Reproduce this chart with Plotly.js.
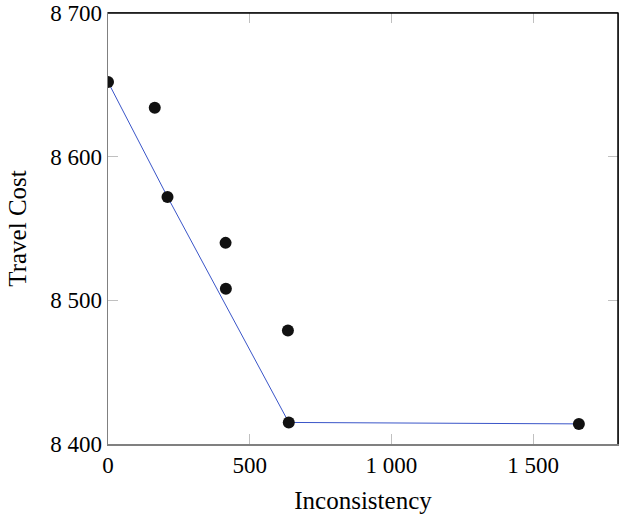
<!DOCTYPE html>
<html>
<head>
<meta charset="utf-8">
<script src="https://cdn.plot.ly/plotly-3.0.1.min.js"></script>
<style>html,body{margin:0;padding:0;background:#fff;}#chart{width:619px;height:516px;}</style>
</head>
<body>
<div id="chart"></div>
<script>
// Scatter points (all solutions)
const pointsX = [0, 165, 210, 415, 416, 635, 638, 1662];
const pointsY = [8652, 8634, 8572, 8540, 8508, 8479, 8415, 8414];
// Pareto front line
const frontX = [0, 210, 638, 1662];
const frontY = [8652, 8572, 8415, 8414];
// Tick labels
const xTickVals = [0, 500, 1000, 1500];
const xTickText = ['0', '500', '1 000', '1 500'];
const yTickVals = [8400, 8500, 8600, 8700];
const yTickText = ['8 400', '8 500', '8 600', '8 700'];

const family = '"Liberation Serif", "DejaVu Serif", serif';
const tickFont = {family: family, size: 23, color: '#000'};
const titleFont = {family: family, size: 25, color: '#000'};

const traces = [
  {x: frontX, y: frontY, mode: 'lines', line: {color: '#3a55c8', width: 1}, hoverinfo: 'skip', showlegend: false},
  {x: pointsX, y: pointsY, mode: 'markers', marker: {color: '#111111', size: 12}, showlegend: false}
];

const layout = {
  width: 619, height: 516,
  margin: {l: 108, r: 1, t: 13, b: 72},
  paper_bgcolor: '#fff', plot_bgcolor: '#fff',
  font: tickFont,
  showlegend: false,
  xaxis: {
    range: [0, 1800], tickvals: xTickVals, ticktext: xTickText,
    ticks: 'inside', ticklen: 10, tickcolor: '#c0c0c0', tickwidth: 1,
    showline: true, linecolor: '#808080', linewidth: 1.5, mirror: 'ticks',
    showgrid: false, zeroline: false,
    tickfont: tickFont,
    title: {text: 'Inconsistency', font: titleFont, standoff: 14}
  },
  yaxis: {
    range: [8400, 8700], tickvals: yTickVals, ticktext: yTickText,
    ticks: 'inside', ticklen: 10, tickcolor: '#c0c0c0', tickwidth: 1,
    showline: true, linecolor: '#808080', linewidth: 1.5, mirror: 'ticks',
    showgrid: false, zeroline: false,
    tickfont: tickFont,
    title: {text: 'Travel Cost', font: titleFont, standoff: 16}
  },
  shapes: [
    {type: 'line', xref: 'paper', yref: 'paper', x0: 0, x1: 1, y0: 1, y1: 1, line: {color: '#000', width: 1.5}},
    {type: 'line', xref: 'paper', yref: 'paper', x0: 1, x1: 1, y0: 0, y1: 1, line: {color: '#000', width: 1.5}}
  ]
};

Plotly.newPlot('chart', traces, layout, {displayModeBar: false, staticPlot: true});
</script>
</body>
</html>
